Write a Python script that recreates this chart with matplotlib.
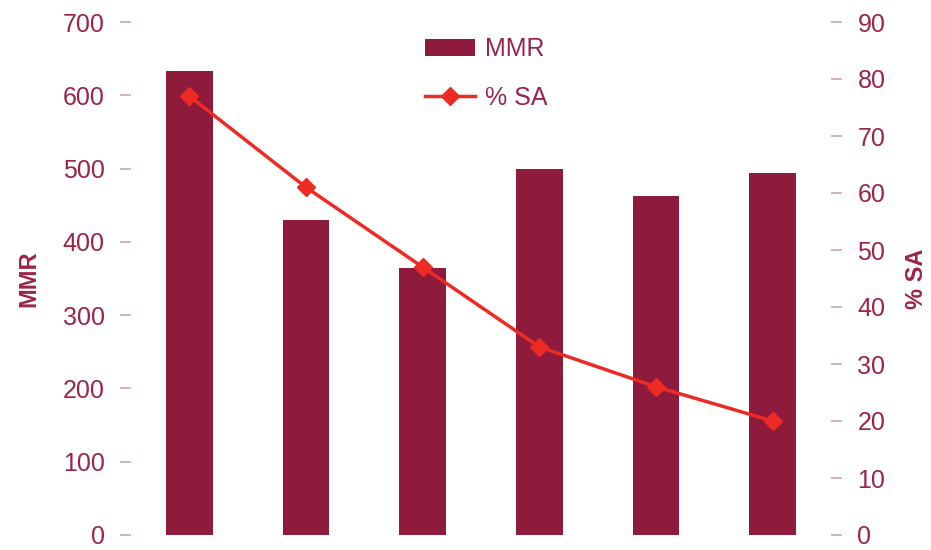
import matplotlib
matplotlib.use("Agg")
import matplotlib.pyplot as plt
import numpy as np

plt.rcParams['font.family'] = ['Liberation Sans', 'DejaVu Sans']

# values
groups = np.arange(6)
mmr = [633, 430, 365, 500, 463, 494]
pct_sa = [77, 61, 47, 33, 26, 20]
mmr_ticks = [0, 100, 200, 300, 400, 500, 600, 700]
sa_ticks = [0, 10, 20, 30, 40, 50, 60, 70, 80, 90]

bar_col = "#8E1A3C"
line_col = "#EE2A24"
txt_col = "#9A2548"
tick_col = "#CFA6B0"

fig = plt.figure(figsize=(9.31, 5.5), dpi=100)
ax = fig.add_axes([131/931, 15/550, 700/931, 513/550])
ax2 = ax.twinx()

bars = ax.bar(groups, mmr, width=0.4, color=bar_col, label="MMR")
line, = ax2.plot(groups, pct_sa, color=line_col, lw=2.5, marker="D", ms=9,
                 label="% SA")

ax.set_xlim(-0.5, 5.5)
ax.set_ylim(0, 700)
ax2.set_ylim(0, 90)
ax.set_yticks(mmr_ticks)
ax2.set_yticks(sa_ticks)
ax.set_xticks([])

for a in (ax, ax2):
    for s in a.spines.values():
        s.set_visible(False)
    a.tick_params(axis="y", direction="out", length=8, width=1.2, color=tick_col,
                  labelcolor=txt_col, labelsize=18, pad=11)

ax.set_ylabel("MMR", color=txt_col, fontsize=17, fontweight="bold", labelpad=16)
ax2.set_ylabel("% SA", color=txt_col, fontsize=17, fontweight="bold", labelpad=14)

fig.legend([bars, line], ["MMR", "% SA"], loc="upper left",
           bbox_to_anchor=(425/931, 1 - 37/550), frameon=False, fontsize=18,
           labelcolor=txt_col, borderpad=0, borderaxespad=0, handlelength=2.0,
           handletextpad=0.4, labelspacing=1.0)

fig.savefig("out.png", dpi=100)
